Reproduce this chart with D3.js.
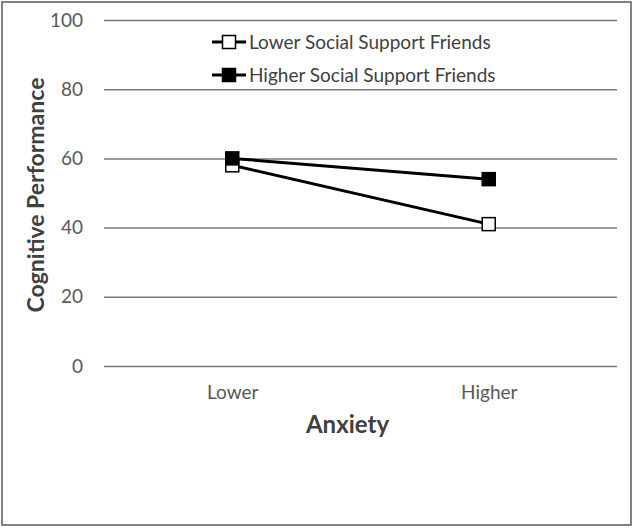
<!DOCTYPE html>
<html>
<head>
<meta charset="utf-8">
<script src="https://cdn.jsdelivr.net/npm/d3@7"></script>
<style>
  body { margin: 0; background: #fff; }
  svg text { font-family: Lato, "Noto Sans", sans-serif; }
</style>
</head>
<body>
<svg id="chart" width="634" height="528"></svg>
<script>
// data
var categories = ["Lower", "Higher"];
var seriesNames = ["Lower Social Support Friends", "Higher Social Support Friends"];
var lowerSupport = [58, 41];
var higherSupport = [60, 54];
var yTicks = [0, 20, 40, 60, 80, 100];

var svg = d3.select("#chart");

// outer frame
svg.append("rect")
    .attr("x", 2).attr("y", 2)
    .attr("width", 629).attr("height", 523)
    .attr("fill", "none")
    .attr("stroke", "#595959")
    .attr("stroke-width", 1.5);

var plotLeft = 104, plotRight = 617, plotTop = 20, plotBottom = 366;

var x = d3.scalePoint()
    .domain(categories)
    .range([plotLeft, plotRight])
    .padding(0.5);

var y = d3.scaleLinear()
    .domain([0, 100])
    .range([plotBottom, plotTop]);

// gridlines + y labels
var yAxis = d3.axisLeft(y)
    .tickValues(yTicks)
    .tickSize(-(plotRight - plotLeft))
    .tickPadding(21);

var gy = svg.append("g")
    .attr("transform", "translate(" + plotLeft + ",0)")
    .call(yAxis);
gy.select(".domain").remove();
gy.selectAll("line")
    .attr("stroke", "#7a7a7a")
    .attr("stroke-width", 1.5);
gy.selectAll("text")
    .attr("fill", "#595959")
    .style("font-size", "19px");

// x category labels
var xAxis = d3.axisBottom(x).tickSize(0).tickPadding(20);
var gx = svg.append("g")
    .attr("transform", "translate(0," + plotBottom + ")")
    .call(xAxis);
gx.select(".domain").remove();
gx.selectAll("text")
    .attr("fill", "#595959")
    .style("font-size", "19px");

// axis titles
svg.append("text")
    .attr("x", (plotLeft + plotRight) / 2 - 13)
    .attr("y", 433)
    .attr("text-anchor", "middle")
    .attr("fill", "#404040")
    .style("font-size", "24px")
    .style("font-weight", "bold")
    .text("Anxiety");

svg.append("text")
    .attr("transform", "translate(44,195) rotate(-90)")
    .attr("text-anchor", "middle")
    .attr("fill", "#404040")
    .style("font-size", "23px")
    .style("font-weight", "bold")
    .text("Cognitive Performance");

var series = [
    {name: seriesNames[0], values: lowerSupport, fill: "#fff"},
    {name: seriesNames[1], values: higherSupport, fill: "#000"}
];

var line = d3.line()
    .x(function (d, i) { return x(categories[i]); })
    .y(function (d) { return y(d); });

var sq = 13;

series.forEach(function (s) {
    svg.append("path")
        .attr("d", line(s.values))
        .attr("fill", "none")
        .attr("stroke", "#000")
        .attr("stroke-width", 3);
});

series.forEach(function (s) {
    svg.selectAll(null)
        .data(s.values)
        .enter().append("rect")
        .attr("x", function (d, i) { return x(categories[i]) - sq / 2; })
        .attr("y", function (d) { return y(d) - sq / 2; })
        .attr("width", sq)
        .attr("height", sq)
        .attr("fill", s.fill)
        .attr("stroke", "#000")
        .attr("stroke-width", 1.5);
});

// legend
var legend = svg.append("g");
series.forEach(function (s, i) {
    var ly = 42 + i * 33;
    legend.append("line")
        .attr("x1", 212).attr("x2", 246)
        .attr("y1", ly).attr("y2", ly)
        .attr("stroke", "#000")
        .attr("stroke-width", 3);
    legend.append("rect")
        .attr("x", 229 - sq / 2).attr("y", ly - sq / 2)
        .attr("width", sq).attr("height", sq)
        .attr("fill", s.fill)
        .attr("stroke", "#000")
        .attr("stroke-width", 1.5);
    legend.append("text")
        .attr("x", 249)
        .attr("y", ly)
        .attr("dy", "0.35em")
        .attr("fill", "#404040")
        .style("font-size", "19px")
        .text(s.name);
});
</script>
</body>
</html>
